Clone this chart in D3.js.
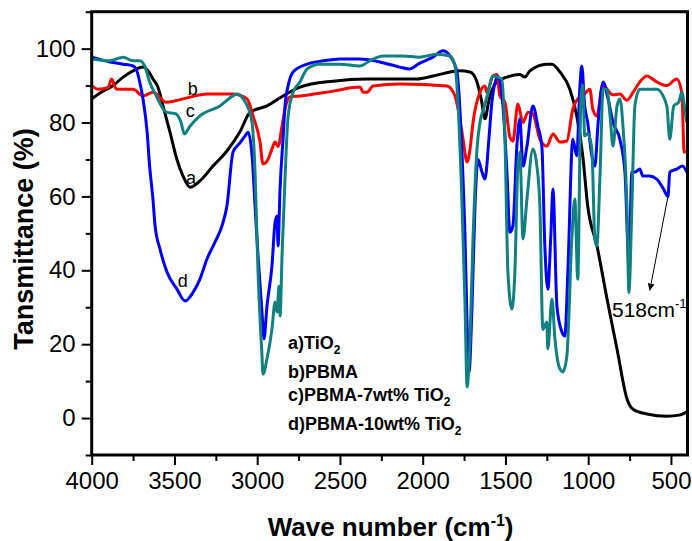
<!DOCTYPE html>
<html lang="en">
<head>
<meta charset="UTF-8">
<title>FTIR TiO2 / PBMA</title>
<script src="https://d3js.org/d3.v7.min.js"></script>
<style>
  body { margin: 0; padding: 0; background: #fff; }
  svg { display: block; font-family: Arial, "Liberation Sans", sans-serif; }
  .curve { fill: none; stroke-width: 3px; stroke-linejoin: round; }
  .axis text { font-size: 24px; fill: #000; }
  .axis line { stroke: #000; stroke-width: 2px; }
  .axis path { display: none; }
  .title { font-weight: bold; font-size: 26px; }
  .legend { font-weight: bold; font-size: 18px; }
</style>
</head>
<body>
<svg width="692" height="541"></svg>
<script>
// [wave number, transmittance %]
const tio2 = [
  [4000,86.4],[3950,88],[3871,90],[3810,92.3],[3750,94],[3690,95],[3660,94],[3630,91.8],
  [3600,89.6],[3569,84.5],[3527,77.4],[3485,70],[3448,65.5],[3406,62.5],[3346,64.2],
  [3267,68.2],[3183,72.3],[3104,77.5],[3043,82.8],[2941,84.5],[2844,87.2],[2741,89.6],
  [2542,91.2],[2337,91.8],[2035,91.8],[1938,92.6],[1775,94],[1714,93.7],[1672,91],
  [1645,86],[1624,81],[1600,86],[1552,91],[1491,92.3],[1413,93],[1383,92.3],[1352,94],
  [1250,95.8],[1219,95.8],[1171,93.7],[1111,89],[1069,81.8],[1033,71],[1003,57.4],
  [947,46.6],[886,32.2],[826,18.7],[765,5.1],[729,2.4],[645,1.1],[524,0.5],[450,0.8],[405,1.6]
];
const pbma = [
  [4000,90],[3960,89],[3900,89.5],[3880,91.8],[3850,89],[3750,89],[3690,87.2],[3630,88.2],
  [3550,85.5],[3500,85.8],[3430,86.6],[3300,87.7],[3150,87.7],[3061,86.4],[3025,81.8],
  [2983,74.7],[2965,68.8],[2935,70],[2911,72.8],[2892,74.7],[2874,73.5],[2850,79],
  [2832,83.6],[2802,86.9],[2741,87.2],[2542,88.5],[2378,89.6],[2360,88.2],[2336,88.2],
  [2300,89.9],[2137,90.4],[1853,89.9],[1805,87.2],[1786,83.6],[1756,75.5],[1732,69.3],
  [1714,72.8],[1696,80],[1654,88.2],[1624,89.9],[1612,88.2],[1576,92.6],[1552,93],
  [1534,87.2],[1503,85.5],[1473,76],[1455,75],[1425,85],[1394,80],[1364,82.8],[1334,82.3],
  [1292,75.5],[1250,73.6],[1213,76.9],[1171,74.7],[1129,75],[1093,83.6],[1063,86.4],
  [1033,87.2],[990,89],[972,83.6],[948,81.8],[912,90],[851,87.5],[809,87.7],[767,86],
  [731,88],[688,91],[646,92.6],[586,91],[525,90],[465,91.8],[434,88],[420,72],[405,72]
];
const pbma7 = [
  [4000,97.2],[3890,96.7],[3810,97.7],[3750,96.7],[3710,96.7],[3680,95.3],[3650,91],
  [3610,87.2],[3550,82.8],[3490,82.3],[3460,80],[3440,76.9],[3406,79],[3346,81.8],
  [3225,84.5],[3146,87.2],[3120,87.7],[3085,86.4],[3055,84],[3031,80],[3013,66.6],
  [2995,39.5],[2971,16.8],[2965,11.9],[2941,16],[2911,24],[2892,31.4],[2880,28.7],
  [2868,35.7],[2862,27.6],[2850,43.9],[2832,64.7],[2813,81.8],[2783,88.2],[2741,91],
  [2699,94.5],[2621,95.8],[2500,95.8],[2379,95.3],[2320,96.7],[2240,98],[2120,98],
  [2020,97.7],[1915,98.5],[1835,98],[1805,95.3],[1786,84.5],[1762,57.4],[1744,30.3],
  [1732,8.4],[1714,21.4],[1696,48.5],[1672,72.8],[1654,80],[1630,84],[1606,88],
  [1576,92.6],[1521,91.8],[1503,75.5],[1485,39.5],[1461,29.5],[1443,39.5],[1425,68.2],
  [1413,72],[1394,48.5],[1370,59.3],[1334,72.8],[1310,68.2],[1292,57.4],[1274,24],
  [1250,26],[1244,18.7],[1219,32.2],[1201,21.4],[1171,13.3],[1153,12.5],[1129,16.8],
  [1099,48.5],[1081,59.3],[1063,37.6],[1045,85],[1033,90],[1021,76.4],[1003,77],
  [978,72.8],[960,48.5],[948,46.6],[928,66.6],[910,89],[886,89],[868,81.8],[850,73.6],
  [826,84.5],[808,86.4],[790,79],[766,57.4],[754,34],[736,57.4],[718,84.5],[688,89],
  [646,89],[586,89],[525,84.5],[507,75.5],[483,84.5],[453,85.5],[435,88.2],[417,84],[405,80]
];
const pbma10 = [
  [4000,97.7],[3890,96.4],[3810,95.8],[3750,95.3],[3725,93.7],[3710,91],[3690,86.4],
  [3665,77.4],[3650,68.2],[3630,59.3],[3617,52],[3587,45.7],[3545,39.5],[3485,34.9],
  [3436,31.7],[3388,34],[3346,37.6],[3304,43],[3255,47.6],[3213,52],[3183,57.4],
  [3146,72],[3104,74.5],[3073,76.4],[3055,77.4],[3031,71],[3013,57.4],[2995,43.9],
  [2971,28.7],[2959,21.4],[2941,30.3],[2911,41.1],[2892,53],[2880,54.7],[2874,46.6],
  [2862,62],[2844,75.5],[2832,84.5],[2813,90],[2783,93.7],[2699,95.8],[2600,96.7],
  [2500,97.2],[2380,97.2],[2260,96.4],[2140,95],[2080,94.5],[2020,96],[1938,97.7],
  [1878,99.4],[1835,98],[1793,93.7],[1762,71],[1744,48.5],[1732,26],[1720,12.5],
  [1702,30.3],[1684,57.4],[1666,70],[1642,66.6],[1624,64.7],[1600,75.5],[1582,85.5],
  [1545,92.6],[1515,84.5],[1491,66.6],[1473,50.3],[1455,52],[1431,73.6],[1413,81],
  [1394,68.2],[1370,73.6],[1334,84.5],[1304,79],[1280,73.6],[1262,46.6],[1244,34.9],
  [1225,50.3],[1213,62],[1189,30.3],[1159,23.3],[1141,22.2],[1123,39.5],[1093,75.5],
  [1069,71],[1051,89],[1039,95.3],[1021,84.5],[1003,80],[978,71],[960,68.2],[940,80],
  [910,91],[880,86.4],[850,80],[809,75.5],[778,66.6],[754,42],[736,66.6],[718,66.6],
  [688,67.4],[670,65.5],[630,65.5],[586,64.7],[545,62],[518,60],[507,66.6],[465,67.4],
  [430,68.2],[405,66.6]
];

const xMajor = [4000, 3500, 3000, 2500, 2000, 1500, 1000, 500];
const xMinor = [3750, 3250, 2750, 2250, 1750, 1250, 750];
const yMajor = [0, 20, 40, 60, 80, 100];
const yMinor = [-10, 10, 30, 50, 70, 90, 110];

const svg = d3.select("svg");
const margin = { top: 11.7, right: 4.5, bottom: 86, left: 91.7 };
const width = 692 - margin.left - margin.right;
const height = 541 - margin.top - margin.bottom;

const g = svg.append("g")
    .attr("transform", `translate(${margin.left},${margin.top})`);

const x = d3.scaleLinear().domain([4000, 400]).range([0, width]);
const y = d3.scaleLinear().domain([-10, 110]).range([height, 0]);

// ticks
g.append("g").attr("class", "axis")
    .attr("transform", `translate(0,${height})`)
    .call(d3.axisBottom(x).tickValues(xMajor).tickFormat(d3.format("d"))
        .tickSize(10).tickPadding(7).tickSizeOuter(0));
g.append("g").attr("class", "axis")
    .attr("transform", `translate(0,${height})`)
    .call(d3.axisBottom(x).tickValues(xMinor).tickSize(6).tickFormat("").tickSizeOuter(0));
g.append("g").attr("class", "axis")
    .call(d3.axisLeft(y).tickValues(yMajor).tickSize(10).tickPadding(6).tickSizeOuter(0));
g.append("g").attr("class", "axis")
    .call(d3.axisLeft(y).tickValues(yMinor).tickSize(6).tickFormat("").tickSizeOuter(0));

// curves
const line = d3.line()
    .x(d => x(d[0]))
    .y(d => y(d[1]))
    .curve(d3.curveMonotoneX);

const series = [
    { data: tio2, color: "#000000" },
    { data: pbma, color: "#ff0000" },
    { data: pbma10, color: "#0000ff" },
    { data: pbma7, color: "#108080" }
];
series.forEach(s => {
    g.append("path")
        .datum(s.data)
        .attr("class", "curve")
        .attr("stroke", s.color)
        .attr("d", line);
});

// frame
g.append("rect")
    .attr("width", width)
    .attr("height", height)
    .attr("fill", "none")
    .attr("stroke", "#000")
    .attr("stroke-width", 3);

// curve letters
const letters = [
    { t: "a", w: 3400, v: 65 },
    { t: "b", w: 3390, v: 89 },
    { t: "c", w: 3405, v: 83 },
    { t: "d", w: 3450, v: 37 }
];
g.selectAll(".letter")
    .data(letters)
    .enter().append("text")
    .attr("class", "letter")
    .attr("x", d => x(d.w))
    .attr("y", d => y(d.v))
    .attr("text-anchor", "middle")
    .attr("dominant-baseline", "central")
    .style("font-size", "18px")
    .text(d => d.t);

// legend text
const legendLines = [
    { main: "a)TiO", sub: "2", yy: 349 },
    { main: "b)PBMA", sub: "", yy: 378 },
    { main: "c)PBMA-7wt% TiO", sub: "2", yy: 401 },
    { main: "d)PBMA-10wt% TiO", sub: "2", yy: 430 }
];
legendLines.forEach(l => {
    const t = svg.append("text")
        .attr("class", "legend")
        .attr("x", 288)
        .attr("y", l.yy);
    t.append("tspan").text(l.main);
    if (l.sub) {
        t.append("tspan").attr("dy", 5).style("font-size", "12px").text(l.sub);
    }
});

// 518 annotation
svg.append("defs").append("marker")
    .attr("id", "arrow")
    .attr("viewBox", "0 0 10 10")
    .attr("refX", 10).attr("refY", 5)
    .attr("markerWidth", 7).attr("markerHeight", 7)
    .attr("orient", "auto")
    .append("path").attr("d", "M0,0 L10,5 L0,10 z").attr("fill", "#000");

g.append("line")
    .attr("x1", x(518)).attr("y1", y(60))
    .attr("x2", x(628)).attr("y2", y(34.5))
    .attr("stroke", "#000")
    .attr("stroke-width", 1)
    .attr("marker-end", "url(#arrow)");

const ann = svg.append("text")
    .attr("x", 612)
    .attr("y", 317)
    .style("font-size", "21px");
ann.append("tspan").text("518cm");
ann.append("tspan").attr("dy", -9).style("font-size", "13px").text("-1");

// axis titles
const xt = svg.append("text")
    .attr("class", "title")
    .attr("x", margin.left + width / 2 + 1)
    .attr("y", 536)
    .attr("text-anchor", "middle");
xt.append("tspan").text("Wave number (cm");
xt.append("tspan").attr("dy", -10).style("font-size", "16px").text("-1");
xt.append("tspan").attr("dy", 10).text(")");

svg.append("text")
    .attr("class", "title")
    .attr("transform", "translate(33,239) rotate(-90)")
    .attr("text-anchor", "middle")
    .style("font-size", "27px")
    .text("Tansmittance (%)");
</script>
</body>
</html>
